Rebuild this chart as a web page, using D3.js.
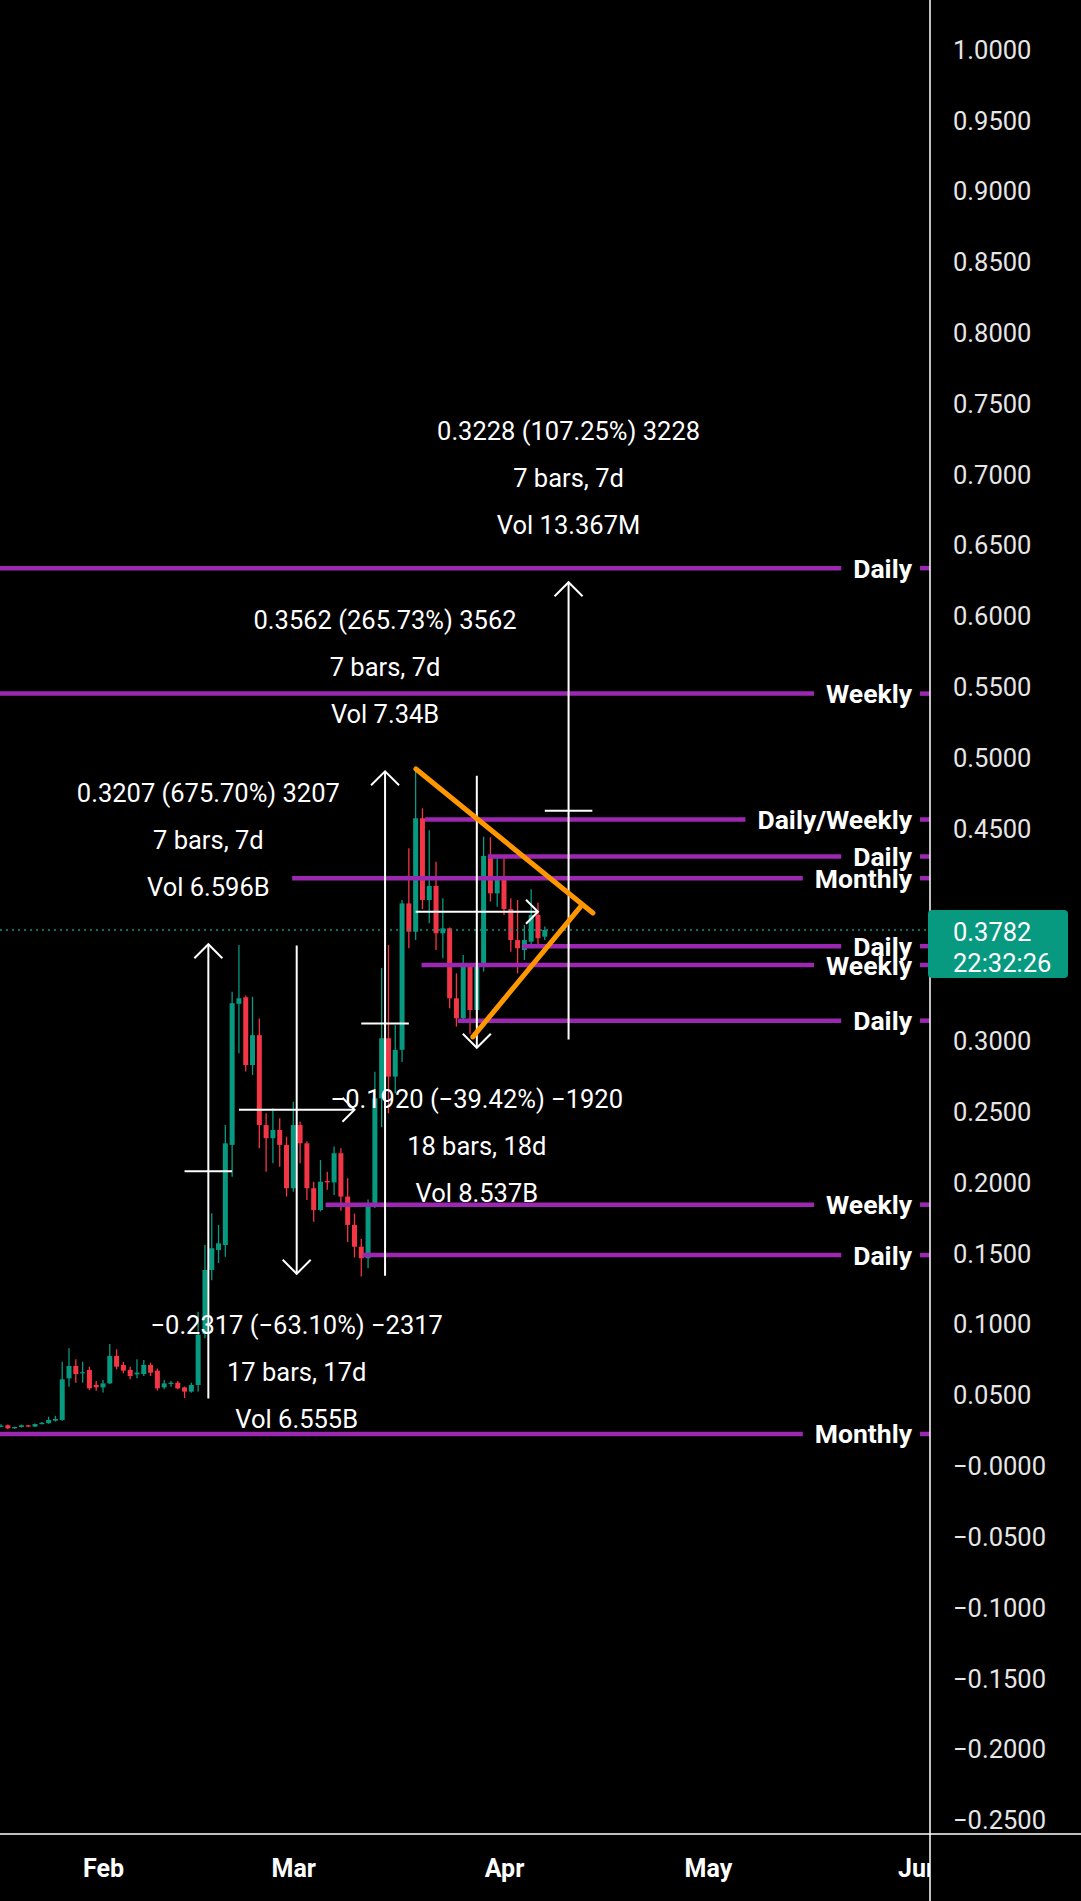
<!DOCTYPE html>
<html>
<head>
<meta charset="utf-8">
<script src="https://cdn.jsdelivr.net/npm/d3@7"></script>
<style>
  html, body { margin: 0; padding: 0; background: #000; }
  svg { display: block; font-family: Roboto, "Noto Sans", sans-serif; }
</style>
</head>
<body>
<svg id="chart" width="1081" height="1901"></svg>
<script>
// ---------------- DATA ----------------
const firstCandleDay = "2023-01-17";
const opens  = [0.0280,0.0285,0.0264,0.0273,0.0285,0.0276,0.0294,0.0300,0.0318,0.0323,
                0.0617,0.0704,0.0652,0.0676,0.0570,0.0553,0.0581,0.0775,0.0711,0.0676,
                0.0645,0.0647,0.0711,0.0671,0.0553,0.0577,0.0586,0.0553,0.0523,0.0570,
                0.0930,0.1382,0.1523,0.1558,0.2265,0.3261,0.3307,0.2829,0.3040,0.2405,
                0.2312,0.2370,0.2265,0.1959,0.2405,0.2276,0.1959,0.1805,0.2010,0.2000,
                0.2206,0.1900,0.1700,0.1546,0.1465,0.1853,0.2594,0.3018,0.2747,0.2936,
                0.3970,0.3770,0.4571,0.3994,0.4093,0.3759,0.3794,0.3300,0.3159,0.3523,
                0.3217,0.3549,0.4305,0.4041,0.4147,0.3930,0.3711,0.3641,0.3700,0.3888,
                0.3735];
const highs  = [0.0292,0.0290,0.0276,0.0290,0.0288,0.0298,0.0308,0.0346,0.0352,0.0734,
                0.0829,0.0751,0.0734,0.0699,0.0598,0.0605,0.0859,0.0822,0.0734,0.0699,
                0.0751,0.0746,0.0727,0.0687,0.0605,0.0598,0.0598,0.0558,0.0586,0.1087,
                0.1559,0.1782,0.1700,0.2405,0.3347,0.3676,0.3320,0.3311,0.3158,0.2488,
                0.2523,0.2453,0.2323,0.2570,0.2430,0.2290,0.2005,0.2158,0.2076,0.2253,
                0.2241,0.2030,0.1780,0.1600,0.1880,0.2782,0.3514,0.3676,0.3111,0.3994,
                0.4359,0.4917,0.4641,0.4486,0.4264,0.4006,0.3800,0.3476,0.3606,0.3540,
                0.3606,0.4441,0.4437,0.4288,0.4288,0.4006,0.3994,0.3817,0.4070,0.3975,
                0.3806];
const lows   = [0.0272,0.0258,0.0260,0.0270,0.0272,0.0274,0.0290,0.0296,0.0312,0.0318,
                0.0558,0.0586,0.0586,0.0534,0.0530,0.0516,0.0577,0.0680,0.0652,0.0610,
                0.0617,0.0633,0.0633,0.0530,0.0539,0.0558,0.0539,0.0478,0.0516,0.0523,
                0.0900,0.1310,0.1430,0.1476,0.2040,0.2912,0.2783,0.2758,0.2241,0.2076,
                0.2135,0.2110,0.1900,0.1935,0.2135,0.1876,0.1723,0.1795,0.1948,0.1911,
                0.1800,0.1580,0.1470,0.1335,0.1394,0.1820,0.2390,0.2488,0.2629,0.2850,
                0.3653,0.3712,0.3929,0.3829,0.3641,0.3582,0.3229,0.3100,0.3123,0.3049,
                0.3030,0.3489,0.3983,0.3947,0.3888,0.3629,0.3476,0.3570,0.3653,0.3664,
                0.3712];
const closes = [0.0283,0.0264,0.0273,0.0285,0.0276,0.0294,0.0303,0.0323,0.0330,0.0610,
                0.0704,0.0647,0.0660,0.0546,0.0553,0.0581,0.0775,0.0699,0.0671,0.0633,
                0.0657,0.0711,0.0657,0.0546,0.0581,0.0586,0.0546,0.0523,0.0570,0.0925,
                0.1382,0.1535,0.1570,0.2276,0.3265,0.3300,0.2829,0.3040,0.2405,0.2312,
                0.2370,0.2265,0.1959,0.2405,0.2276,0.1959,0.1805,0.2005,0.2000,0.2206,
                0.1900,0.1700,0.1546,0.1465,0.1853,0.2594,0.3018,0.2747,0.2936,0.3970,
                0.3770,0.4571,0.3994,0.4093,0.3759,0.3794,0.3300,0.3159,0.3523,0.3217,
                0.3549,0.4305,0.4041,0.4147,0.3930,0.3711,0.3653,0.3711,0.3888,0.3724,
                0.3782];

const monthTickDates = ["2023-02-01","2023-03-01","2023-04-01","2023-05-01","2023-06-01"];
const monthTickLabels = ["Feb","Mar","Apr","May","Jun"];

const priceTicks = [1.0,0.95,0.9,0.85,0.8,0.75,0.7,0.65,0.6,0.55,0.5,0.45,0.4,0.35,0.3,0.25,0.2,0.15,0.1,0.05,0,-0.05,-0.1,-0.15,-0.2,-0.25];
const priceTickLabels = ["1.0000","0.9500","0.9000","0.8500","0.8000","0.7500","0.7000","0.6500","0.6000","0.5500","0.5000","0.4500","0.4000","0.3500","0.3000","0.2500","0.2000","0.1500","0.1000","0.0500","\u22120.0000","\u22120.0500","\u22120.1000","\u22120.1500","\u22120.2000","\u22120.2500"];

// horizontal support / resistance levels
const levelValues = [0.6337,0.5451,0.4562,0.4301,0.4148,0.3668,0.3535,0.3142,0.1843,0.1487,0.0224];
const levelLabels = ["Daily","Weekly","Daily/Weekly","Daily","Monthly","Daily","Weekly","Daily","Weekly","Daily","Monthly"];
const levelStarts = ["2023-01-01","2023-01-01","2023-03-20T09:00","2023-03-29T15:00","2023-02-28T20:00",
                     "2023-04-03T18:00","2023-03-19T21:00","2023-03-25T05:00","2023-03-05T18:00","2023-03-11T05:00","2023-01-01"];

// date & price range measurements
const rangeStartDates = ["2023-02-13","2023-03-11","2023-04-07","2023-03-19","2023-02-21"];
const rangeEndDates   = ["2023-02-20","2023-03-18","2023-04-14","2023-04-06","2023-03-10"];
const rangeFromPrice  = [0.04746,0.13405,0.30098,0.48706,0.36719];
const rangeToPrice    = [0.36820,0.49025,0.62378,0.29506,0.13549];
const rangeBars       = [7,7,7,18,17];
const rangeLine1 = ["0.3207 (675.70%) 3207","0.3562 (265.73%) 3562","0.3228 (107.25%) 3228","\u22120.1920 (\u221239.42%) \u22121920","\u22120.2317 (\u221263.10%) \u22122317"];
const rangeLine2 = ["7 bars, 7d","7 bars, 7d","7 bars, 7d","18 bars, 18d","17 bars, 17d"];
const rangeLine3 = ["Vol 6.596B","Vol 7.34B","Vol 13.367M","Vol 8.537B","Vol 6.555B"];

// triangle trend lines
const wedgeUpperDates = ["2023-03-19T01:00","2023-04-14T02:00"];
const wedgeUpperPrices = [0.4919,0.3902];
const wedgeLowerDates = ["2023-03-27T10:00","2023-04-12T05:00"];
const wedgeLowerPrices = [0.3027,0.3944];

const lastPrice = 0.3782;
const lastPriceText = "0.3782";
const countdownText = "22:32:26";

// ---------------- CHART ----------------
const W = 1081, H = 1901;
const plotRight = 930, plotBottom = 1834;
const UP = "#089981", DOWN = "#f23645", PURPLE = "#9c27b0", ORANGE = "#ff9800";

const parseDay = d3.utcParse("%Y-%m-%d");
const parseTime = d3.utcParse("%Y-%m-%dT%H:%M");
const toDate = s => parseTime(s) || parseDay(s);

const x = d3.scaleUtc()
  .domain([parseDay("2023-02-01"), parseDay("2023-04-01")])
  .range([103, 504]);
const y = d3.scaleLinear().domain([1.0, -0.25]).range([49.3, 1819.8]);

const svg = d3.select("#chart");
svg.append("rect").attr("width", W).attr("height", H).attr("fill", "#000");

const defs = svg.append("defs");
defs.append("clipPath").attr("id", "plotClip")
  .append("rect").attr("x", 0).attr("y", 0).attr("width", plotRight).attr("height", plotBottom);
defs.append("clipPath").attr("id", "plotClipX")
  .append("rect").attr("x", 0).attr("y", -10).attr("width", plotRight).attr("height", 100);

const plot = svg.append("g").attr("clip-path", "url(#plotClip)");

// candles
const firstDay = parseDay(firstCandleDay);
const days = d3.utcDay.range(firstDay, d3.utcDay.offset(firstDay, opens.length));
const candles = days.map((d, i) => ({ d, o: opens[i], h: highs[i], l: lows[i], c: closes[i] }));
const bodyW = 5;
const cg = plot.append("g");
cg.selectAll("line.wick").data(candles).join("line")
  .attr("class", "wick")
  .attr("x1", d => x(d.d)).attr("x2", d => x(d.d))
  .attr("y1", d => y(d.h)).attr("y2", d => y(d.l))
  .attr("stroke", d => d.c >= d.o ? UP : DOWN)
  .attr("stroke-width", 1.3);
cg.selectAll("rect.body").data(candles).join("rect")
  .attr("class", "body")
  .attr("x", d => x(d.d) - bodyW / 2)
  .attr("y", d => y(Math.max(d.o, d.c)))
  .attr("width", bodyW)
  .attr("height", d => Math.max(1.2, Math.abs(y(d.o) - y(d.c))))
  .attr("fill", d => d.c >= d.o ? UP : DOWN);

// last price dotted line
plot.append("line")
  .attr("x1", 0).attr("x2", plotRight)
  .attr("y1", y(lastPrice)).attr("y2", y(lastPrice))
  .attr("stroke", UP).attr("stroke-width", 1.3).attr("stroke-dasharray", "2,4");

// levels
const labelRight = 912, labelGap = 12;
const levels = levelValues.map((v, i) => ({ v, label: levelLabels[i], start: toDate(levelStarts[i]) }));
const lg = plot.append("g");
const lblG = svg.append("g");
levels.forEach(lv => {
  const yy = y(lv.v);
  const t = lblG.append("text")
    .attr("x", labelRight).attr("y", yy)
    .attr("text-anchor", "end").attr("dominant-baseline", "central")
    .attr("fill", "#fff").attr("font-weight", "bold").attr("font-size", 26.5)
    .text(lv.label);
  const w = t.node().getComputedTextLength();
  lg.append("line")
    .attr("x1", Math.max(0, x(lv.start))).attr("x2", labelRight - w - labelGap)
    .attr("y1", yy).attr("y2", yy)
    .attr("stroke", PURPLE).attr("stroke-width", 4.5);
  lg.append("line")
    .attr("x1", 920).attr("x2", plotRight)
    .attr("y1", yy).attr("y2", yy)
    .attr("stroke", PURPLE).attr("stroke-width", 4.5);
});

// range measurements
const ranges = rangeStartDates.map((s, i) => ({
  s: parseDay(s), e: parseDay(rangeEndDates[i]),
  from: rangeFromPrice[i], to: rangeToPrice[i], bars: rangeBars[i],
  lines: [rangeLine1[i], rangeLine2[i], rangeLine3[i]]
}));
const rg = plot.append("g");
const textG = svg.append("g").attr("clip-path", "url(#plotClip)");
ranges.forEach(r => {
  const xs = x(r.s), xe = x(r.e), xm = (xs + xe) / 2;
  const y0 = y(r.from), y1 = y(r.to), ym = (y0 + y1) / 2;
  const up = r.to > r.from;
  rg.append("line").attr("x1", xm).attr("x2", xm).attr("y1", y0).attr("y2", y1)
    .attr("stroke", "#fff").attr("stroke-width", 2);
  const ah = 14;
  const sgn = up ? 1 : -1;
  rg.append("path")
    .attr("d", `M${xm - ah},${y1 + sgn * ah}L${xm},${y1}L${xm + ah},${y1 + sgn * ah}`)
    .attr("fill", "none").attr("stroke", "#fff").attr("stroke-width", 2);
  rg.append("line").attr("x1", xs).attr("x2", xe).attr("y1", ym).attr("y2", ym)
    .attr("stroke", "#fff").attr("stroke-width", 2);
  if (r.bars > 10) {
    const hh = 12;
    rg.append("path")
      .attr("d", `M${xe - hh},${ym - hh}L${xe},${ym}L${xe - hh},${ym + hh}`)
      .attr("fill", "none").attr("stroke", "#fff").attr("stroke-width", 2);
  }
  r.lines.forEach((txt, k) => {
    const ty = up ? y1 - 57 - 47 * (2 - k) : y1 + 51 + 47 * k;
    textG.append("text")
      .attr("x", xm).attr("y", ty)
      .attr("text-anchor", "middle").attr("dominant-baseline", "central")
      .attr("fill", "#fff").attr("font-size", 25.5)
      .text(txt);
  });
});

// wedge (triangle) lines
const wedge = d3.line().x(d => x(d[0])).y(d => y(d[1]));
const upperPts = wedgeUpperDates.map((d, i) => [toDate(d), wedgeUpperPrices[i]]);
const lowerPts = wedgeLowerDates.map((d, i) => [toDate(d), wedgeLowerPrices[i]]);
[upperPts, lowerPts].forEach(pts => {
  plot.append("path").attr("d", wedge(pts))
    .attr("fill", "none").attr("stroke", ORANGE).attr("stroke-width", 5)
    .attr("stroke-linecap", "round");
});

// price axis (labels hidden where the last-price tag covers them)
const py = y(lastPrice);
const tagTop = py - 20, tagH = 68;
const visibleTicks = priceTicks.filter(v => y(v) + 12 < tagTop || y(v) - 12 > tagTop + tagH);
const yAxis = d3.axisRight(y)
  .tickValues(visibleTicks)
  .tickFormat(d => priceTickLabels[priceTicks.indexOf(d)])
  .tickSize(0).tickPadding(23);
const ya = svg.append("g").attr("transform", `translate(${plotRight},0)`).call(yAxis);
ya.select(".domain").remove();
ya.selectAll("text").attr("fill", "#e6e6e6").attr("font-size", 25.5)
  .attr("font-family", "Roboto, sans-serif").attr("dy", "0.35em");

// time axis
const xAxis = d3.axisBottom(x)
  .tickValues(monthTickDates.map(parseDay))
  .tickFormat((d, i) => monthTickLabels[i])
  .tickSize(0).tickPadding(0);
const xa = svg.append("g").attr("clip-path", "url(#plotClipX)")
  .attr("transform", `translate(0,${plotBottom})`).call(xAxis);
xa.select(".domain").remove();
xa.selectAll("text").attr("fill", "#fff").attr("font-size", 25).attr("font-weight", "bold")
  .attr("font-family", "Roboto, sans-serif").attr("y", 34).attr("dy", "0.35em");

// frame lines
svg.append("line").attr("x1", plotRight).attr("x2", plotRight).attr("y1", 0).attr("y2", H)
  .attr("stroke", "#fff").attr("stroke-width", 1.5);
svg.append("line").attr("x1", 0).attr("x2", W).attr("y1", plotBottom).attr("y2", plotBottom)
  .attr("stroke", "#fff").attr("stroke-width", 1.5);

// last price tag
svg.append("rect").attr("x", 928).attr("y", tagTop).attr("width", 140).attr("height", tagH)
  .attr("rx", 4).attr("fill", UP);
svg.append("text").attr("x", 953).attr("y", py + 2).attr("dominant-baseline", "central")
  .attr("fill", "#fff").attr("font-size", 25.5).text(lastPriceText);
svg.append("text").attr("x", 953).attr("y", py + 33).attr("dominant-baseline", "central")
  .attr("fill", "#fff").attr("font-size", 25.5).text(countdownText);
</script>
</body>
</html>
